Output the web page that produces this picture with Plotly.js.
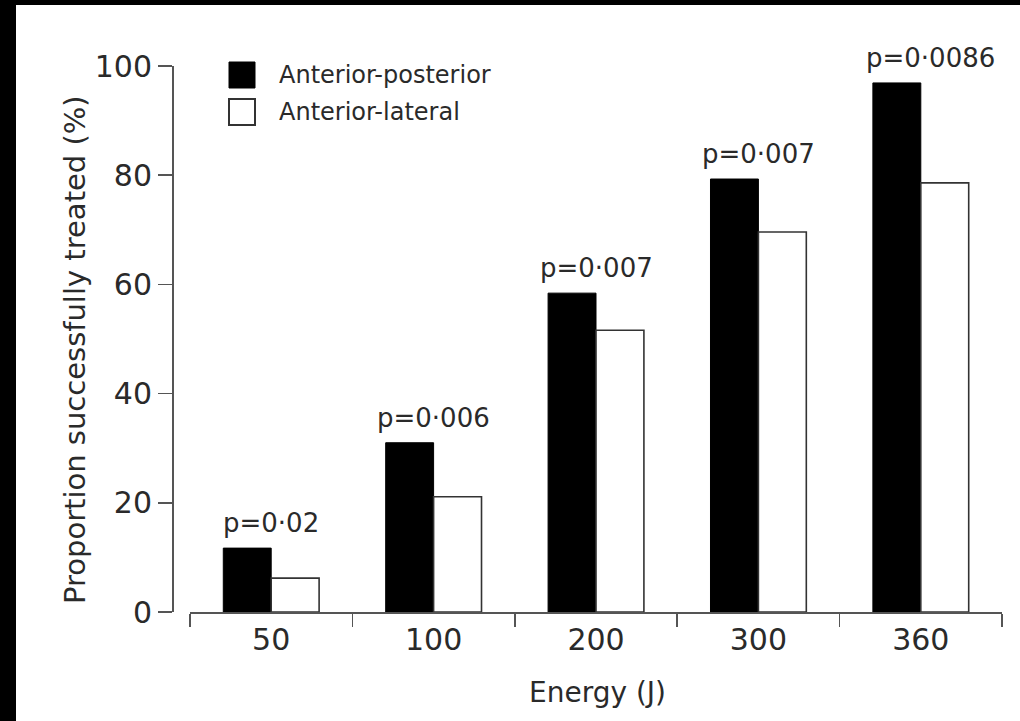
<!DOCTYPE html>
<html>
<head>
<meta charset="utf-8">
<script src="https://cdn.plot.ly/plotly-3.0.1.min.js"></script>
<style>
  html, body { margin: 0; padding: 0; background: #000; width: 1020px; height: 721px; overflow: hidden; }
  #chart { position: absolute; left: 16px; top: 5px; width: 1004px; height: 716px; background: #fff; }
</style>
</head>
<body>
<div id="chart"></div>
<script>
// ---- data ----
const energies = ["50", "100", "200", "300", "360"];
const anteriorPosterior = [11.7, 31.0, 58.4, 79.3, 96.9];
const anteriorLateral = [6.2, 21.1, 51.6, 69.6, 78.6];
const pValues = ["p=0·02", "p=0·006", "p=0·007", "p=0·007", "p=0·0086"];
const seriesNames = ["Anterior-posterior", "Anterior-lateral"];
const yTicks = [0, 20, 40, 60, 80, 100];

// ---- layout geometry (div coordinates) ----
const W = 1004, H = 716;
const M = { l: 156, r: 18, t: 61, b: 109 };
const PW = W - M.l - M.r, PH = H - M.t - M.b;
const OX = 16, OY = 5; // div offset in page
function px(pageX) { return (pageX - OX - M.l) / PW; }
function py(pageY) { return (H - M.b - (pageY - OY)) / PH; }

const FONT = "DejaVu Sans";
const TXT = "#2a2a2a";

const traces = [
  {
    type: "bar", name: seriesNames[0], x: energies, y: anteriorPosterior,
    marker: { color: "#000", line: { color: "#000", width: 1 } },
    showlegend: false, hoverinfo: "skip"
  },
  {
    type: "bar", name: seriesNames[1], x: energies, y: anteriorLateral,
    marker: { color: "#fff", line: { color: "#333", width: 1.6 } },
    showlegend: false, hoverinfo: "skip"
  }
];

// p-value labels: x given as category index on the category axis
const annotations = pValues.map((t, i) => ({
  x: i, y: anteriorPosterior[i], xref: "x", yref: "y",
  text: t, showarrow: false, xanchor: "center", yanchor: "bottom",
  yshift: 8, xshift: i === 4 ? 10 : 0,
  font: { family: FONT, size: 26, color: TXT }
}));

// legend texts
annotations.push({
  x: px(277), y: py(75), xref: "paper", yref: "paper", text: seriesNames[0],
  showarrow: false, xanchor: "left", yanchor: "middle",
  font: { family: FONT, size: 24, color: TXT }
});
annotations.push({
  x: px(277), y: py(112), xref: "paper", yref: "paper", text: seriesNames[1],
  showarrow: false, xanchor: "left", yanchor: "middle",
  font: { family: FONT, size: 24, color: TXT }
});
// axis titles
annotations.push({
  x: px(75), y: py(350), xref: "paper", yref: "paper",
  text: "Proportion successfully treated (%)", textangle: -90,
  showarrow: false, xanchor: "center", yanchor: "middle",
  font: { family: FONT, size: 29, color: TXT }
});
annotations.push({
  x: px(597), y: py(692), xref: "paper", yref: "paper",
  text: "Energy (J)", showarrow: false, xanchor: "center", yanchor: "middle",
  font: { family: FONT, size: 28, color: TXT }
});

const shapes = [
  { type: "rect", xref: "paper", yref: "paper", x0: px(229), x1: px(255), y0: py(62), y1: py(88),
    fillcolor: "#000", line: { color: "#000", width: 1 } },
  { type: "rect", xref: "paper", yref: "paper", x0: px(229), x1: px(255), y0: py(99), y1: py(125),
    fillcolor: "#fff", line: { color: "#333", width: 2 } }
];

const layout = {
  width: W, height: H,
  margin: M,
  paper_bgcolor: "#fff", plot_bgcolor: "#fff",
  showlegend: false,
  barmode: "group", bargap: 0.41, bargroupgap: 0,
  font: { family: FONT, color: TXT },
  xaxis: {
    type: "category", domain: [px(190), 1], anchor: "y",
    showline: true, linecolor: "#555", linewidth: 1.5,
    ticks: "outside", tickson: "boundaries", ticklen: 13, tickwidth: 1.5, tickcolor: "#555",
    showgrid: false, zeroline: false,
    tickfont: { family: FONT, size: 30, color: TXT },
    range: [-0.5, 4.5]
  },
  yaxis: {
    range: [0, 100], anchor: "free", position: 0,
    tickvals: yTicks, ticktext: yTicks.map(String),
    showline: true, linecolor: "#555", linewidth: 1.5,
    ticks: "outside", ticklen: 14, tickwidth: 1.5, tickcolor: "#555",
    showgrid: false, zeroline: false,
    tickfont: { family: FONT, size: 30, color: TXT }
  },
  annotations: annotations,
  shapes: shapes
};

Plotly.newPlot("chart", traces, layout, { displayModeBar: false, staticPlot: true });
</script>
</body>
</html>
